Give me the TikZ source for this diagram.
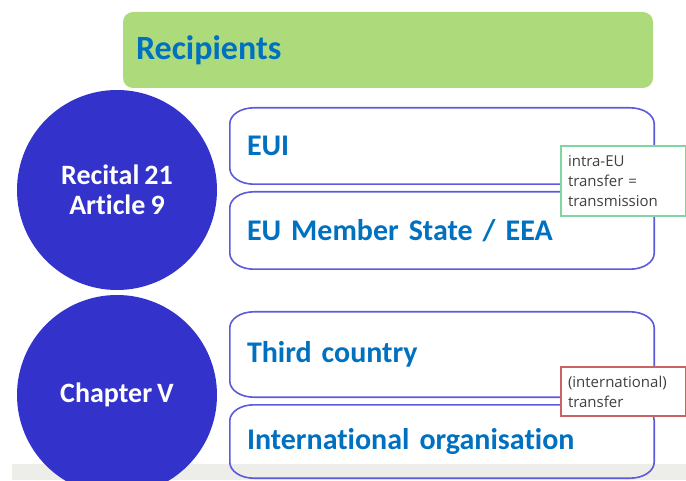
\documentclass[tikz,border=0pt]{standalone}
\usepackage{fontspec}
\setmainfont[RawFeature=-liga, WordSpace=0.8]{Carlito}
\newfontfamily\notefont{Open Sans}
\definecolor{headgreen}{HTML}{ADDB7C}
\definecolor{titleblue}{HTML}{0070C0}
\definecolor{discblue}{HTML}{3333CC}
\definecolor{framblue}{HTML}{5B5BDB}
\definecolor{notegreen}{HTML}{80D6A0}
\definecolor{notered}{HTML}{C86464}
\definecolor{bandgray}{HTML}{EDEDE9}
\definecolor{notetext}{HTML}{404040}

% Oval-cornered outline drawn around a named node
\newcommand\ovalframe[1]{%
  \draw[boxline] ([xshift=24pt]#1.north west) -- ([xshift=-24pt]#1.north east)
    arc[start angle=90, end angle=0, x radius=24pt, y radius=16pt]
    -- ([yshift=16pt]#1.south east)
    arc[start angle=0, end angle=-90, x radius=24pt, y radius=16pt]
    -- ([xshift=24pt]#1.south west)
    arc[start angle=270, end angle=180, x radius=24pt, y radius=16pt]
    -- ([yshift=-16pt]#1.north west)
    arc[start angle=180, end angle=90, x radius=24pt, y radius=16pt] -- cycle;}

\tikzset{
  header/.style={fill=headgreen, rounded corners=10pt, minimum width=530pt,
    minimum height=76pt, inner xsep=13pt, text width=504pt, align=left,
    font=\bfseries\fontsize{34}{40}\selectfont, text=titleblue},
  disc/.style={circle, fill=discblue, minimum size=200pt, inner sep=0pt,
    text=white, align=center, font=\bfseries\fontsize{28}{32}\selectfont},
  itembox/.style={minimum width=424pt, inner xsep=17pt,
    text width=390pt, align=left, text=titleblue,
    font=\bfseries\fontsize{30}{36}\selectfont},
  boxline/.style={draw=framblue, line width=1.6pt},
  note/.style={draw, fill=white, line width=1.3pt, minimum width=125pt,
    inner xsep=7pt, text width=111pt, align=left, text=notetext,
    font=\notefont\fontsize{15}{20}\selectfont},
}

\begin{document}
\begin{tikzpicture}[x=1pt, y=1pt]
\useasboundingbox (0,0) rectangle (686,480);

% footer band
\fill[bandgray] (12,0) rectangle (686,16);

% title bar
\node[header] (head) at (388,430) {Recipients};

% legal basis discs
\node[disc] (recital) at (117,290) {Recital 21\\[-2pt]Article 9};
\node[disc] (chapter) at (117,85) {Chapter V};

% recipient categories
\node[itembox, minimum height=76pt] (eui) at (442,334) {EUI};
\ovalframe{eui}
\node[itembox, minimum height=77pt] (eums) at (442,249.5) {EU Member State / EEA};
\ovalframe{eums}
\node[itembox, minimum height=85pt] (third) at (442,125.5) {Third country};
\ovalframe{third}
\node[itembox, minimum height=73pt] (intorg) at (442,38.5) {International organisation};
\ovalframe{intorg}

% annotations
\node[note, draw=notegreen, minimum height=70pt] (intra) at (623.5,299)
  {intra-EU\\transfer =\\transmission};
\node[note, draw=notered, minimum height=49pt] (intl) at (623.5,88.5)
  {(international)\\transfer};
\end{tikzpicture}
\end{document}
